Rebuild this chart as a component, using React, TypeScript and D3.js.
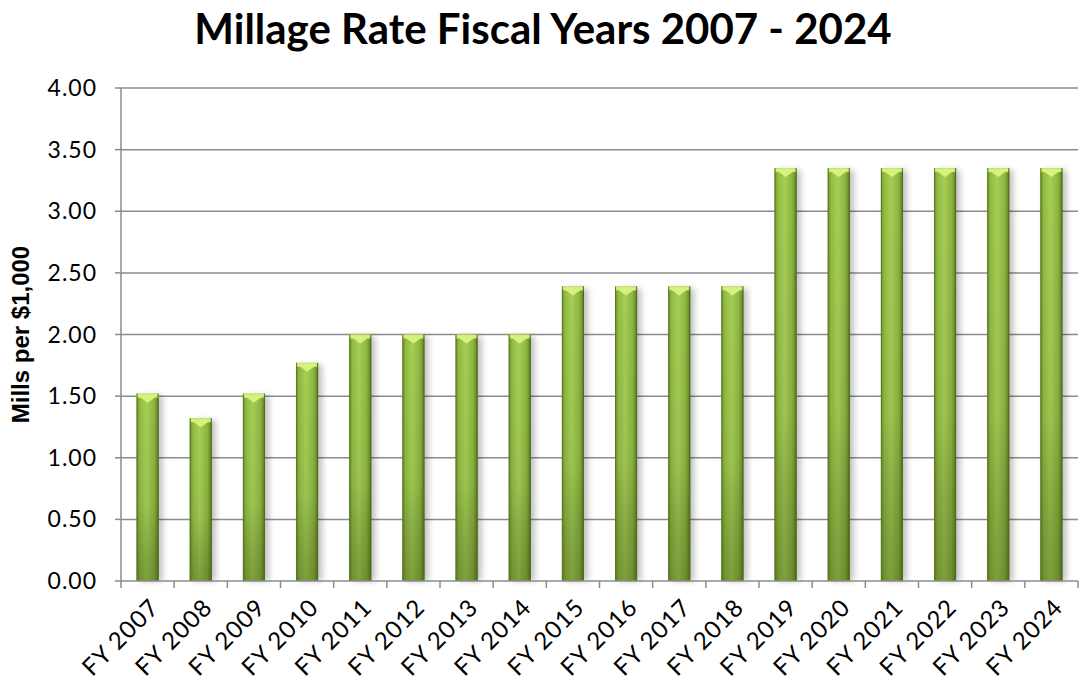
import React from "react";
import * as d3 from "d3";

const categories = ["FY 2007","FY 2008","FY 2009","FY 2010","FY 2011","FY 2012","FY 2013","FY 2014","FY 2015","FY 2016","FY 2017","FY 2018","FY 2019","FY 2020","FY 2021","FY 2022","FY 2023","FY 2024"];
const values = [1.52,1.32,1.52,1.77,2.0,2.0,2.0,2.0,2.39,2.39,2.39,2.39,3.35,3.35,3.35,3.35,3.35,3.35];
const yTicks = [0,0.5,1,1.5,2,2.5,3,3.5,4];
const title = "Millage Rate Fiscal Years 2007 - 2024";
const yLabel = "Mills per $1,000";

export default function App() {
  const W = 1080, H = 683;
  const left = 121, right = 1078, top = 88, bottom = 581;
  const x = d3.scaleBand<string>().domain(categories).range([left, right]).paddingInner(0).paddingOuter(0);
  const y = d3.scaleLinear().domain([0, 4]).range([bottom, top]);
  const bw = 22;
  const font = "Lato, 'Open Sans', sans-serif";
  return (
    <svg width={W} height={H} style={{ position: "absolute", left: 0, top: 0 }} fontFamily={font}>
      <defs>
        <linearGradient id="gh" x1="0" x2="1" y1="0" y2="0">
          <stop offset="0" stopColor="#6f8f2c" />
          <stop offset="0.15" stopColor="#92bb45" />
          <stop offset="0.45" stopColor="#a6cf55" />
          <stop offset="0.8" stopColor="#8db541" />
          <stop offset="1" stopColor="#5f7d22" />
        </linearGradient>
        <linearGradient id="gv" x1="0" x2="0" y1="0" y2="1">
          <stop offset="0" stopColor="#000" stopOpacity="0" />
          <stop offset="0.6" stopColor="#000" stopOpacity="0.05" />
          <stop offset="1" stopColor="#203000" stopOpacity="0.3" />
        </linearGradient>
        <filter id="sh" x="-50%" y="-10%" width="200%" height="120%">
          <feGaussianBlur stdDeviation="3" />
        </filter>
      </defs>
      <rect width={W} height={H} fill="#fff" />
      <text x={543} y={44} textAnchor="middle" fontSize={42} fontWeight="bold" fill="#000">{title}</text>
      {yTicks.map((t) => (
        <g key={t}>
          {t > 0 && <line x1={left} x2={right} y1={y(t)} y2={y(t)} stroke="#8c8c8c" strokeWidth={1.5} />}
          <line x1={left - 6} x2={left} y1={y(t)} y2={y(t)} stroke="#8c8c8c" strokeWidth={1.5} />
          <text x={left - 24} y={y(t)} dy="0.35em" textAnchor="end" fontSize={23} letterSpacing={1} fill="#000">{t.toFixed(2)}</text>
        </g>
      ))}
      {categories.map((c, i) => {
        const cx = (x(c) as number) + x.bandwidth() / 2;
        const x0 = cx - bw / 2;
        const yt = y(values[i]);
        const h = bottom - yt;
        return (
          <g key={c}>
            <rect x={x0 + 4} y={yt + 2} width={bw} height={h - 2} fill="#000" opacity={0.25} filter="url(#sh)" />
            <rect x={x0} y={yt} width={bw} height={h} fill="url(#gh)" />
            <rect x={x0} y={yt} width={bw} height={h} fill="url(#gv)" />
            <rect x={x0} y={yt} width={bw} height={4} fill="#c9ea6e" />
            <path d={`M${x0},${yt + 1}L${x0 + bw},${yt + 1}L${cx},${yt + 9}Z`} fill="#d6f27d" />
            <line x1={x0 + 0.5} x2={x0 + 0.5} y1={yt} y2={bottom} stroke="#5a7a1f" strokeWidth={1} />
            <line x1={x0 + bw - 0.5} x2={x0 + bw - 0.5} y1={yt} y2={bottom} stroke="#4f6d1a" strokeWidth={1} />
          </g>
        );
      })}
      <line x1={left} x2={left} y1={top} y2={bottom} stroke="#8c8c8c" strokeWidth={1.5} />
      <line x1={left} x2={right} y1={bottom} y2={bottom} stroke="#8c8c8c" strokeWidth={1.5} />
      {categories.map((c) => (
        <line key={"t" + c} x1={x(c) as number} x2={x(c) as number} y1={bottom} y2={bottom + 7} stroke="#8c8c8c" strokeWidth={1.5} />
      ))}
      <line x1={right} x2={right} y1={bottom} y2={bottom + 7} stroke="#8c8c8c" strokeWidth={1.5} />
      {categories.map((c) => {
        const cx = (x(c) as number) + x.bandwidth() / 2;
        return (
          <text key={"l" + c} transform={`translate(${cx + 7},${bottom + 22}) rotate(-45)`} textAnchor="end" dy="0.35em" fontSize={24} letterSpacing={1} fill="#000">{c}</text>
        );
      })}
      <text transform={`translate(29,${(top + bottom) / 2}) rotate(-90)`} textAnchor="middle" fontSize={24} fontWeight="bold" fontFamily="'Liberation Sans', Arial, sans-serif" fill="#000">{yLabel}</text>
    </svg>
  );
}
